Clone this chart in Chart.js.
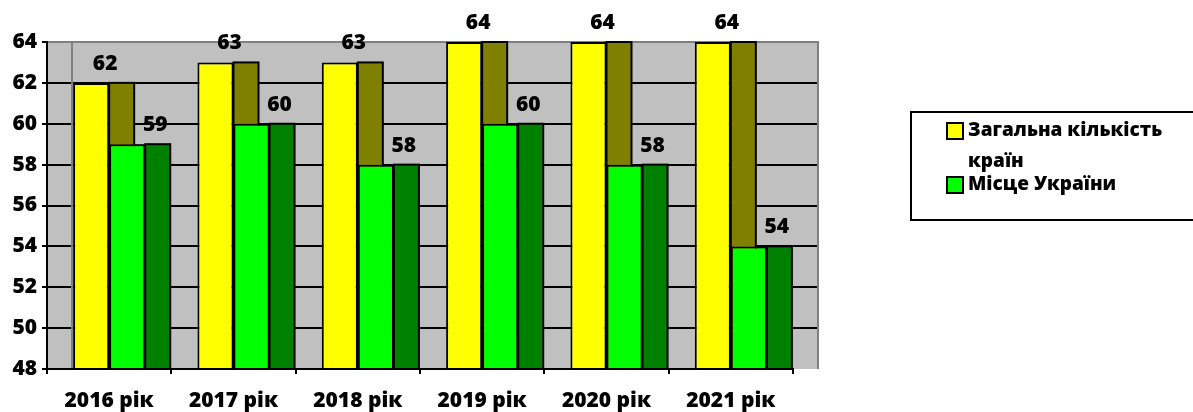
<!DOCTYPE html>
<html>
<head>
<meta charset="utf-8">
<script src="https://cdn.jsdelivr.net/npm/chart.js@4.4.0/dist/chart.umd.min.js"></script>
<style>
  html, body { margin: 0; padding: 0; background: #fff; }
  #wrap { width: 1193px; height: 412px; position: relative; }
</style>
</head>
<body>
<div id="wrap"><canvas id="chart"></canvas></div>
<script>
// chart data
const years = ['2016 рік', '2017 рік', '2018 рік', '2019 рік', '2020 рік', '2021 рік'];
const totalCountries = [62, 63, 63, 64, 64, 64];
const ukrainePlace = [59, 60, 58, 60, 58, 54];
const seriesNames = ['Загальна кількість країн', 'Місце України'];
const yTicks = [48, 50, 52, 54, 56, 58, 60, 62, 64];

const FONT = '"Open Sans", "DejaVu Sans", sans-serif';
const W = 800;  // font weight
const frontColors = ['#ffff00', '#00ff00'];
const sideColors = ['#808000', '#008000'];
const labelShift = [14, 28];   // label x offset from bar centre
const DEPTH = 25;              // pseudo 3D depth of the side faces

// gray wall + gridlines, drawn before everything else
const wallPlugin = {
    id: 'wall',
    beforeDraw(chart) {
        const ctx = chart.ctx;
        const a = chart.chartArea;
        const y = chart.scales.y;
        const right = a.right + DEPTH;
        ctx.save();
        ctx.fillStyle = '#c0c0c0';
        ctx.fillRect(a.left, a.top, right - a.left, a.bottom - a.top);
        // horizontal gridlines
        ctx.strokeStyle = '#000';
        ctx.lineWidth = 2;
        yTicks.forEach(v => {
            if (v === yTicks[0] || v === yTicks[yTicks.length - 1]) return;
            const py = Math.round(y.getPixelForValue(v));
            ctx.beginPath();
            ctx.moveTo(a.left, py);
            ctx.lineTo(right, py);
            ctx.stroke();
        });
        // wall edges
        ctx.strokeStyle = '#808080';
        ctx.beginPath();
        ctx.moveTo(a.left, a.top);
        ctx.lineTo(right, a.top);
        ctx.lineTo(right, a.bottom);
        ctx.moveTo(a.left + DEPTH, a.top);
        ctx.lineTo(a.left + DEPTH, a.bottom);
        ctx.stroke();
        ctx.restore();
    }
};

// side faces: yellow sides, then green fronts again on top, then green sides
const sidePlugin = {
    id: 'sides',
    afterDatasetsDraw(chart) {
        const ctx = chart.ctx;
        const a = chart.chartArea;
        const drawSides = i => {
            ctx.save();
            ctx.fillStyle = sideColors[i];
            ctx.strokeStyle = '#000';
            ctx.lineWidth = 2;
            chart.getDatasetMeta(i).data.forEach(bar => {
                const x0 = bar.x + bar.width / 2;
                const h = Math.min(bar.base, a.bottom) - bar.y;
                ctx.fillRect(x0, bar.y, DEPTH, h);
                ctx.strokeRect(x0, bar.y, DEPTH, h);
            });
            ctx.restore();
        };
        drawSides(0);
        ctx.save();
        ctx.beginPath();
        ctx.rect(a.left, a.top, a.right - a.left, a.bottom - a.top);
        ctx.clip();
        chart.getDatasetMeta(1).data.forEach(bar => bar.draw(ctx));
        ctx.restore();
        drawSides(1);

        // value labels
        ctx.save();
        ctx.fillStyle = '#000';
        ctx.font = W + ' 21px ' + FONT;
        ctx.textAlign = 'center';
        ctx.textBaseline = 'middle';
        chart.data.datasets.forEach((ds, i) => {
            chart.getDatasetMeta(i).data.forEach((bar, j) => {
                ctx.fillText(String(ds.data[j]), bar.x + labelShift[i], bar.y - 19);
            });
        });
        ctx.restore();
    }
};

// boxed legend on the right
const legendPlugin = {
    id: 'boxLegend',
    afterDraw(chart) {
        const ctx = chart.ctx;
        ctx.save();
        ctx.strokeStyle = '#000';
        ctx.lineWidth = 2;
        ctx.strokeRect(911, 112, 300, 108);
        ctx.font = W + ' 19px ' + FONT;
        ctx.textBaseline = 'middle';
        const rows = [[131, 162], [185]];
        chart.data.datasets.forEach((ds, i) => {
            const ys = rows[i];
            const words = ds.label.split(' ');
            const lines = i === 0 ? [words.slice(0, 2).join(' '), words.slice(2).join(' ')] : [ds.label];
            ctx.fillStyle = frontColors[i];
            ctx.fillRect(947, ys[0] - 8, 16, 16);
            ctx.strokeRect(947, ys[0] - 8, 16, 16);
            ctx.fillStyle = '#000';
            lines.forEach((t, k) => ctx.fillText(t, 968, ys[k]));
        });
        ctx.restore();
    }
};

new Chart(document.getElementById('chart'), {
    type: 'bar',
    data: {
        labels: years,
        datasets: [
            { label: seriesNames[0], data: totalCountries, backgroundColor: frontColors[0],
              borderColor: '#000', borderWidth: 2 },
            { label: seriesNames[1], data: ukrainePlace, backgroundColor: frontColors[1],
              borderColor: '#000', borderWidth: 2 }
        ]
    },
    options: {
        responsive: true,
        maintainAspectRatio: false,
        animation: false,
        devicePixelRatio: 1,
        layout: { padding: { top: 42, right: 400, left: 0, bottom: 0 } },
        plugins: {
            legend: { display: false },
            tooltip: { enabled: false }
        },
        datasets: {
            bar: { categoryPercentage: 0.58, barPercentage: 1.0 }
        },
        scales: {
            x: {
                afterFit(s) { s.height = 43; },
                grid: { offset: true, drawOnChartArea: false, tickLength: 5, color: '#000', lineWidth: 2 },
                border: { color: '#000', width: 2, z: 1 },
                ticks: { color: '#000', font: { family: FONT, size: 21, weight: W }, padding: 14, maxRotation: 0 }
            },
            y: {
                min: 48,
                max: 64,
                afterFit(s) { s.width = 47; },
                afterBuildTicks(s) { s.ticks = yTicks.map(v => ({ value: v })); },
                grid: { drawOnChartArea: false, tickLength: 5, color: '#000', lineWidth: 2 },
                border: { color: '#000', width: 2, z: 1 },
                ticks: { color: '#000', font: { family: FONT, size: 21, weight: W }, padding: 5 }
            }
        }
    },
    plugins: [wallPlugin, sidePlugin, legendPlugin]
});
</script>
</body>
</html>
